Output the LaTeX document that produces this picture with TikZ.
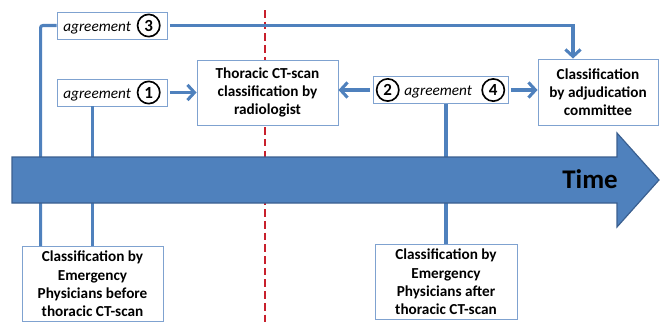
\documentclass[tikz,border=0pt]{standalone}
\usepackage{fontspec}
\setmainfont{Carlito}
\usetikzlibrary{arrows.meta}

\definecolor{tblue}{HTML}{4F81BD}
\definecolor{tborder}{HTML}{3A5F8F}
\definecolor{boxline}{HTML}{7FA2D0}
\definecolor{sepred}{HTML}{C8202C}

\tikzset{
  conn/.style={tblue, line width=2.6pt},
  arr/.style={conn, shorten <=2pt, -{Straight Barb[length=6pt,width=13pt]}},
  agbox/.style={draw=boxline, fill=white, line width=0.8pt, minimum width=3.3cm,
    minimum height=0.81cm, inner sep=1pt, font=\fontsize{13}{15.6}\selectfont},
  infobox/.style={draw=boxline, fill=white, line width=0.8pt, align=center,
    inner xsep=2pt, inner ysep=4pt, font=\bfseries\fontsize{13}{15.6}\selectfont},
  sepline/.style={sepred, line width=1.7pt, dash pattern=on 6.5pt off 3.5pt}
}

\newcommand{\agnum}[1]{\tikz[baseline=(n.base)]\node[circle, draw=black,
  line width=1.4pt, minimum size=19pt, inner sep=0pt,
  font=\bfseries\fontsize{14.5}{16}\selectfont](n){#1};}

\begin{document}
\begin{tikzpicture}[x=0.03cm,y=-0.03cm]
\useasboundingbox (0,0) rectangle (660,326);
\clip (0,0) rectangle (660,326);

\draw[sepline] (265,10) -- (265,326);

\node[agbox] (agr3) at (112,25.5) {\textit{agreement}\hspace{5pt}\agnum{3}};
\node[agbox] (agr1) at (112,92.5) {\textit{agreement}\hspace{5pt}\agnum{1}};
\node[agbox, minimum width=4.05cm] (agr24) at (440.5,90)
  {\agnum{2}\hspace{4pt}\textit{agreement}\hspace{8pt}\agnum{4}};

\node[infobox, minimum width=4.23cm, minimum height=1.95cm] (ctscan) at (267.5,92.5)
  {Thoracic CT-scan\\classification by\\radiologist};
\node[infobox, minimum width=3.6cm, minimum height=1.98cm] (adjud) at (598,92)
  {Classification\\by adjudication\\committee};

\node[infobox, anchor=north, minimum width=4.23cm] (epbefore) at (92.5,246)
  {Classification by\\Emergency\\Physicians before\\thoracic CT-scan};
\node[infobox, anchor=north, minimum width=4.26cm] (epafter) at (446,244)
  {Classification by\\Emergency\\Physicians after\\thoracic CT-scan};

% connectors (behind the time arrow)
\draw[conn, rounded corners=2pt] ([xshift=0.57cm]epbefore.north west) |- (agr3.west);
\draw[conn] (epbefore.north) -- (epbefore.north |- agr1.south);
\draw[conn] (epafter.north) -- (epafter.north |- agr24.south);

\draw[arr] (agr1.east) -- (ctscan.west |- agr1.east);
\draw[arr] (agr24.west) -- (ctscan.east |- agr24.west);
\draw[arr] (agr24.east) -- (adjud.west |- agr24.east);
\draw[arr] (agr3.east) -| ([xshift=-0.75cm]adjud.north);

% time arrow
\draw[fill=tblue, draw=tborder, line width=1pt] (12,157) -- (617,157) -- (617,133)
  -- (659,180) -- (617,227) -- (617,203) -- (12,203) -- cycle;
\node[anchor=east, inner sep=0pt, font=\bfseries\fontsize{23}{27}\selectfont] (time)
  at (618,179) {Time};

\end{tikzpicture}
\end{document}
